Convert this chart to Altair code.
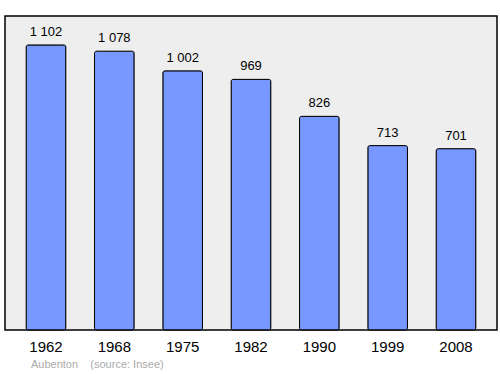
import altair as alt
import pandas as pd

years = ["1962", "1968", "1975", "1982", "1990", "1999", "2008"]
population = [1102, 1078, 1002, 969, 826, 713, 701]
labels = ["1 102", "1 078", "1 002", "969", "826", "713", "701"]

df = pd.DataFrame({"year": years, "pop": population, "label": labels})

x = alt.X("year:N", sort=years, title=None,
          scale=alt.Scale(paddingInner=0.42, paddingOuter=0.31),
          axis=alt.Axis(labelAngle=0, labelFontSize=15, labelColor="black",
                        labelFont="Liberation Sans", ticks=False, domain=False,
                        labelPadding=9))
y = alt.Y("pop:Q", title=None, scale=alt.Scale(domain=[0, 1214], nice=False),
          axis=None)

bars = alt.Chart(df).mark_bar(color="#7799ff", stroke="black", strokeWidth=1,
                              cornerRadius=2).encode(x=x, y=y)
text = alt.Chart(df).mark_text(baseline="bottom", dy=-6, fontSize=13,
                               font="Liberation Sans", color="black").encode(
    x=x, y=y, text="label:N")

chart = (bars + text).properties(
    width=492, height=314,
    autosize=alt.AutoSizeParams(type="none"),
    padding={"left": 5, "top": 16, "right": 3, "bottom": 44},
    title=alt.TitleParams("Aubenton\u00a0\u00a0\u00a0\u00a0(source: Insee)", orient="bottom",
                          anchor="start", dx=26, offset=5, fontSize=11,
                          fontWeight="normal", color="#aaaaaa",
                          font="Liberation Sans"),
    background="white",
).configure_view(fill="#eeeeee", stroke="black", strokeWidth=1.5)

chart.save("out.html", embed_options={"renderer": "svg", "actions": False})
